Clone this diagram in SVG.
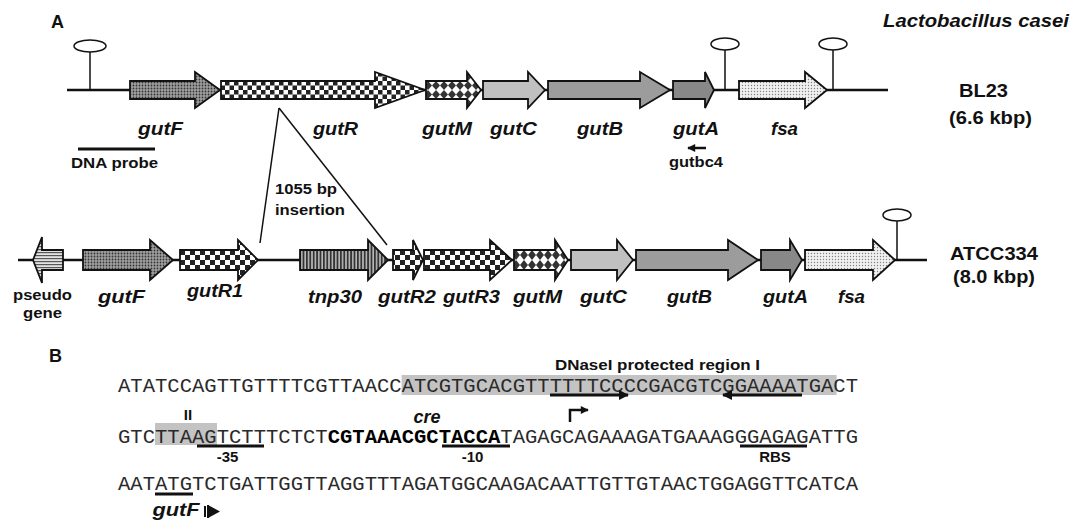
<svg xmlns="http://www.w3.org/2000/svg" width="1071" height="521" viewBox="0 0 1071 521">
<style>
.gene{stroke:#111;stroke-width:1.8;stroke-linejoin:miter}
.bb{stroke:#111;stroke-width:2.5;fill:none}
.thin{stroke:#111;stroke-width:1.5;fill:none}
.term{fill:#fff;stroke:#111;stroke-width:1.5}
.lab{font-family:"Liberation Sans",Arial,sans-serif;font-weight:bold;font-style:italic;font-size:18px;fill:#111}
.txt{font-family:"Liberation Sans",Arial,sans-serif;font-weight:bold;font-size:15px;fill:#111}
.big{font-family:"Liberation Sans",Arial,sans-serif;font-weight:bold;font-size:18px;fill:#111}
.seq{font-family:"Liberation Mono","Courier New",monospace;font-size:21px;fill:#2a2a2a}
.ul{stroke:#111;stroke-width:3;fill:none}
.hl{fill:#c3c3c3}
</style>
<defs>
<pattern id="pDots" width="3" height="3" patternUnits="userSpaceOnUse"><rect width="3" height="3" fill="#a0a0a0"/><circle cx="1.5" cy="1.5" r="0.9" fill="#333"/></pattern>
<pattern id="pCheckA" width="9" height="9" patternUnits="userSpaceOnUse"><rect width="9" height="9" fill="#fff"/><rect width="4.5" height="4.5" fill="#222"/><rect x="4.5" y="4.5" width="4.5" height="4.5" fill="#222"/></pattern>
<pattern id="pCheckB" width="10" height="10" patternUnits="userSpaceOnUse"><rect width="10" height="10" fill="#fff"/><rect width="5" height="5" fill="#222"/><rect x="5" y="5" width="5" height="5" fill="#222"/></pattern>
<pattern id="pDiamA" width="8" height="9" patternUnits="userSpaceOnUse"><rect width="8" height="9" fill="#fff"/><polygon points="4,0 8,4.5 4,9 0,4.5" fill="#333"/></pattern>
<pattern id="pDiamB" width="8" height="10" patternUnits="userSpaceOnUse"><rect width="8" height="10" fill="#fff"/><polygon points="4,0 8,5 4,10 0,5" fill="#333"/></pattern>
<pattern id="pLight" width="3" height="3" patternUnits="userSpaceOnUse"><rect width="3" height="3" fill="#f0f0f0"/><circle cx="1.5" cy="1.5" r="0.7" fill="#808080"/></pattern>
<pattern id="pVStripe" width="3.4" height="10" patternUnits="userSpaceOnUse"><rect width="3.4" height="10" fill="#b8b8b8"/><rect width="1.8" height="10" fill="#333"/></pattern>
<pattern id="pHStripe" width="10" height="3" patternUnits="userSpaceOnUse"><rect width="10" height="3" fill="#e2e2e2"/><rect width="10" height="1.2" fill="#555"/></pattern>
<marker id="ah" viewBox="0 0 10 10" refX="9" refY="5" markerUnits="userSpaceOnUse" markerWidth="13" markerHeight="10" orient="auto"><path d="M0,0 L10,5 L0,10 z" fill="#111"/></marker>
<marker id="ahs" viewBox="0 0 10 10" refX="9" refY="5" markerUnits="userSpaceOnUse" markerWidth="11" markerHeight="8" orient="auto"><path d="M0,0 L10,5 L0,10 z" fill="#111"/></marker>
</defs>
<rect width="1071" height="521" fill="#fff"/>

<text class="big" x="51" y="28">A</text>
<text class="lab" x="883" y="27" textLength="186" lengthAdjust="spacingAndGlyphs">Lactobacillus casei</text>

<g id="connectors">
<line class="bb" x1="67" y1="90" x2="888" y2="90"/>
<line class="bb" x1="18" y1="260" x2="927" y2="260"/>
<line class="thin" x1="279" y1="108" x2="260" y2="243"/>
<line class="thin" x1="279" y1="108" x2="387" y2="245"/>
</g>

<!-- Top row BL23 -->
<g id="term1"><line class="thin" x1="90" y1="52" x2="90" y2="90"/><ellipse class="term" cx="90" cy="46" rx="16" ry="6"/></g>
<g id="top-gutF"><polygon class="gene" fill="url(#pDots)" points="130,81 195,81 195,72 220,90 195,108 195,99 130,99"/><text class="lab" x="160.5" y="135" text-anchor="middle" textLength="45" lengthAdjust="spacingAndGlyphs">gutF</text></g>
<g id="top-gutR"><polygon class="gene" fill="url(#pCheckA)" points="221,81 375,81 375,72 425,90 375,108 375,99 221,99"/><text class="lab" x="335.5" y="135" text-anchor="middle" textLength="45" lengthAdjust="spacingAndGlyphs">gutR</text></g>
<g id="top-gutM"><polygon class="gene" fill="url(#pDiamA)" points="426,81 467,81 467,72 481,90 467,108 467,99 426,99"/><text class="lab" x="447" y="135" text-anchor="middle" textLength="50" lengthAdjust="spacingAndGlyphs">gutM</text></g>
<g id="top-gutC"><polygon class="gene" fill="#c0c0c0" points="483,81 528,81 528,72 545,90 528,108 528,99 483,99"/><text class="lab" x="513.5" y="135" text-anchor="middle" textLength="47" lengthAdjust="spacingAndGlyphs">gutC</text></g>
<g id="top-gutB"><polygon class="gene" fill="#9c9c9c" points="548,81 640,81 640,72 670,90 640,108 640,99 548,99"/><text class="lab" x="600" y="135" text-anchor="middle" textLength="46" lengthAdjust="spacingAndGlyphs">gutB</text></g>
<g id="top-gutA"><polygon class="gene" fill="#888" points="673,81 705,81 705,72 714,90 705,108 705,99 673,99"/><text class="lab" x="696" y="135" text-anchor="middle" textLength="46" lengthAdjust="spacingAndGlyphs">gutA</text></g>
<g id="term2"><line class="thin" x1="725" y1="50" x2="725" y2="90"/><ellipse class="term" cx="725" cy="44" rx="14" ry="6"/></g>
<g id="top-fsa"><polygon class="gene" fill="url(#pLight)" points="739,81 805,81 805,72 827,90 805,108 805,99 739,99"/><text class="lab" x="784.5" y="135" text-anchor="middle" textLength="27" lengthAdjust="spacingAndGlyphs">fsa</text></g>
<g id="term3"><line class="thin" x1="833" y1="50" x2="833" y2="90"/><ellipse class="term" cx="833" cy="44" rx="14" ry="6"/></g>
<g id="probe"><line class="ul" x1="78" y1="149" x2="155" y2="149"/><text class="txt" x="114.5" y="168" text-anchor="middle" textLength="87" lengthAdjust="spacingAndGlyphs">DNA probe</text></g>
<g id="gutbc4"><line x1="706" y1="148" x2="688" y2="148" stroke="#111" stroke-width="2.5" marker-end="url(#ahs)"/><text class="txt" x="696" y="167" text-anchor="middle" textLength="54" lengthAdjust="spacingAndGlyphs">gutbc4</text></g>
<g id="bl23"><text class="big" x="983.5" y="97" text-anchor="middle" textLength="49" lengthAdjust="spacingAndGlyphs">BL23</text><text class="big" x="990.5" y="124" text-anchor="middle" textLength="83" lengthAdjust="spacingAndGlyphs">(6.6 kbp)</text></g>
<g id="insertion"><text class="txt" x="275" y="194" textLength="62" lengthAdjust="spacingAndGlyphs">1055 bp</text><text class="txt" x="275" y="215" textLength="70" lengthAdjust="spacingAndGlyphs">insertion</text></g>

<!-- Bottom row ATCC334 -->
<g id="pseudo"><polygon class="gene" fill="url(#pHStripe)" points="63,250 42,250 42,237 33,260 42,283 42,270 63,270"/><text class="txt" x="42.5" y="300" text-anchor="middle" textLength="59" lengthAdjust="spacingAndGlyphs">pseudo</text><text class="txt" x="42.5" y="318" text-anchor="middle" textLength="39" lengthAdjust="spacingAndGlyphs">gene</text></g>
<g id="bot-gutF"><polygon class="gene" fill="url(#pDots)" points="83,250 150,250 150,240 173,260 150,280 150,270 83,270"/><text class="lab" x="121.5" y="303" text-anchor="middle" textLength="47" lengthAdjust="spacingAndGlyphs">gutF</text></g>
<g id="bot-gutR1"><polygon class="gene" fill="url(#pCheckB)" points="180,250 238,250 238,240 258,260 238,280 238,270 180,270"/><text class="lab" x="215" y="297" text-anchor="middle" textLength="56" lengthAdjust="spacingAndGlyphs">gutR1</text></g>
<g id="bot-tnp30"><polygon class="gene" fill="url(#pVStripe)" points="300,250 368,250 368,240 388,260 368,280 368,270 300,270"/><text class="lab" x="335" y="303" text-anchor="middle" textLength="54" lengthAdjust="spacingAndGlyphs">tnp30</text></g>
<g id="bot-gutR2"><polygon class="gene" fill="url(#pCheckB)" points="393,250 413,250 413,240 423,260 413,280 413,270 393,270"/><text class="lab" x="407" y="303" text-anchor="middle" textLength="58" lengthAdjust="spacingAndGlyphs">gutR2</text></g>
<g id="bot-gutR3"><polygon class="gene" fill="url(#pCheckB)" points="424,250 490,250 490,240 512,260 490,280 490,270 424,270"/><text class="lab" x="471.5" y="303" text-anchor="middle" textLength="57" lengthAdjust="spacingAndGlyphs">gutR3</text></g>
<g id="bot-gutM"><polygon class="gene" fill="url(#pDiamB)" points="514,250 555,250 555,240 568,260 555,280 555,270 514,270"/><text class="lab" x="537.5" y="303" text-anchor="middle" textLength="49" lengthAdjust="spacingAndGlyphs">gutM</text></g>
<g id="bot-gutC"><polygon class="gene" fill="#c0c0c0" points="571,250 617,250 617,240 633,260 617,280 617,270 571,270"/><text class="lab" x="603.5" y="303" text-anchor="middle" textLength="47" lengthAdjust="spacingAndGlyphs">gutC</text></g>
<g id="bot-gutB"><polygon class="gene" fill="#9c9c9c" points="636,250 728,250 728,240 758,260 728,280 728,270 636,270"/><text class="lab" x="689.5" y="303" text-anchor="middle" textLength="45" lengthAdjust="spacingAndGlyphs">gutB</text></g>
<g id="bot-gutA"><polygon class="gene" fill="#888" points="761,250 790,250 790,240 802,260 790,280 790,270 761,270"/><text class="lab" x="785.5" y="303" text-anchor="middle" textLength="45" lengthAdjust="spacingAndGlyphs">gutA</text></g>
<g id="bot-fsa"><polygon class="gene" fill="url(#pLight)" points="805,250 873,250 873,240 895,260 873,280 873,270 805,270"/><text class="lab" x="851.5" y="303" text-anchor="middle" textLength="27" lengthAdjust="spacingAndGlyphs">fsa</text></g>
<g id="term4"><line class="thin" x1="897" y1="221" x2="897" y2="260"/><ellipse class="term" cx="897" cy="215" rx="14" ry="6"/></g>
<g id="atcc"><text class="big" x="994" y="260" text-anchor="middle" textLength="88" lengthAdjust="spacingAndGlyphs">ATCC334</text><text class="big" x="994" y="283" text-anchor="middle" textLength="82" lengthAdjust="spacingAndGlyphs">(8.0 kbp)</text></g>

<!-- Section B -->
<text class="big" x="49" y="362">B</text>
<g id="seq1">
<rect class="hl" x="401.6" y="375" width="435" height="20"/>
<text class="seq" x="118" y="392" textLength="740" lengthAdjust="spacingAndGlyphs">ATATCCAGTTGTTTTCGTTAACCATCGTGCACGTTTTTTCCCCGACGTCGGAAAATGACT</text>
<line x1="550" y1="395" x2="628" y2="395" stroke="#111" stroke-width="3" marker-end="url(#ah)"/>
<line x1="802" y1="395" x2="723" y2="395" stroke="#111" stroke-width="3" marker-end="url(#ah)"/>
<text class="txt" x="657.5" y="370" text-anchor="middle" textLength="205" lengthAdjust="spacingAndGlyphs">DNaseI protected region I</text>
</g>
<g id="seq2">
<rect class="hl" x="155" y="423" width="62" height="22"/>
<text class="seq" x="118" y="443" textLength="740" lengthAdjust="spacingAndGlyphs">GTCTTAAGTCTTTCTCT<tspan font-weight="bold" fill="#000">CGTAAACGCTACCA</tspan>TAGAGCAGAAAGATGAAAGGGAGAGATTG</text>
<text class="txt" x="188" y="420" text-anchor="middle" font-size="14">II</text>
<text class="lab" x="427" y="423" text-anchor="middle" font-size="17">cre</text>
<line class="ul" x1="197" y1="446" x2="264" y2="446"/>
<text class="txt" x="227.5" y="462" text-anchor="middle">-35</text>
<line class="ul" x1="442" y1="446" x2="510" y2="446"/>
<text class="txt" x="472.5" y="462" text-anchor="middle">-10</text>
<line class="ul" x1="740" y1="446" x2="807" y2="446"/>
<text class="txt" x="775" y="462" text-anchor="middle">RBS</text>
<path d="M570,422 L570,410 L588,410" stroke="#111" stroke-width="2.5" fill="none" marker-end="url(#ahs)"/>
</g>
<g id="seq3">
<text class="seq" x="118" y="490" textLength="740" lengthAdjust="spacingAndGlyphs">AATATGTCTGATTGGTTAGGTTTAGATGGCAAGACAATTGTTGTAACTGGAGGTTCATCA</text>
<line class="ul" x1="155" y1="494" x2="193" y2="494"/>
<text class="lab" x="176" y="516" text-anchor="middle" textLength="47" lengthAdjust="spacingAndGlyphs">gutF</text>
<polygon points="208,505 220,511.5 208,518" fill="#111"/>
<rect x="204" y="506" width="2" height="11" fill="#111"/>
<rect x="207" y="505" width="2" height="13" fill="#111"/>
</g>
</svg>
